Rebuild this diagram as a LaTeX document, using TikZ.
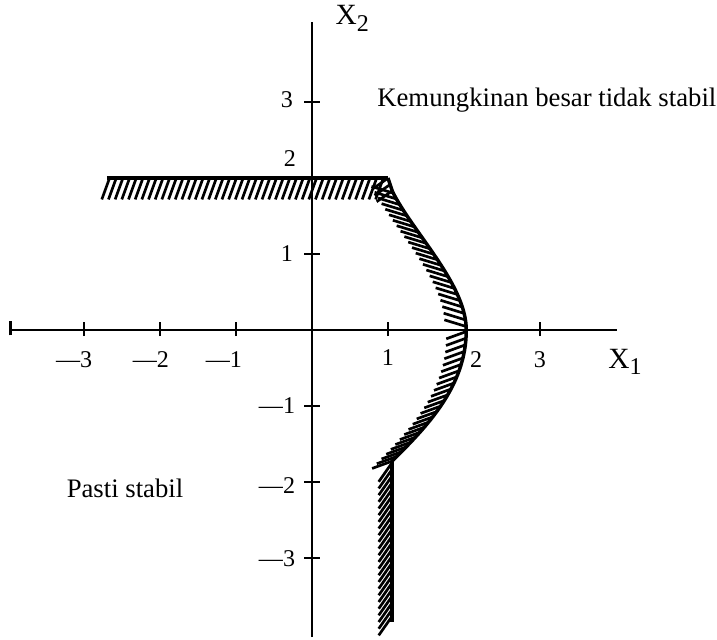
\documentclass[tikz,border=0pt]{standalone}
\usepackage{fontspec}
\setmainfont{Liberation Serif}
\usetikzlibrary{decorations.markings}
\begin{document}
\begin{tikzpicture}[x=1cm,y=1cm,
  axisline/.style={line width=1.1pt},
  bound/.style={line width=1.3pt, line join=round},
  ticklab/.style={font=\fontsize{9}{10}\selectfont, inner sep=0pt},
  lab/.style={font=\fontsize{10}{12}\selectfont, inner sep=0pt},
  hatch/.style 2 args={postaction={decorate,decoration={markings,
     mark=between positions 0.01 and 1 step 2.5pt with {\pgftransformresetnontranslations\draw[line width=1pt] (0,0) -- (#1:#2);}}}}
]
\useasboundingbox (-4.105,-4.066) rectangle (5.329,4.342);
% axes
\draw[axisline] (-3.97,0) -- (4.01,0);
\draw[axisline] (0,-4.04) -- (0,4.05);
\draw[axisline] (-3.97,-0.07) -- (-3.97,0.12);
\foreach \x in {-3,-2,-1,1,3} \draw[axisline] (\x,-0.08) -- (\x,0.1);
\foreach \y in {3,1,-1,-2,-3} \draw[axisline] (-0.1,\y) -- (0.1,\y);
% tick labels
\node[ticklab] (xm3) at (-3.13,-0.39) {—3};
\node[ticklab] (xm2) at (-2.12,-0.39) {—2};
\node[ticklab] (xm1) at (-1.16,-0.39) {—1};
\node[ticklab] (xp1) at (1.0,-0.36) {1};
\node[ticklab] (xp2) at (2.16,-0.39) {2};
\node[ticklab] (xp3) at (3.0,-0.39) {3};
\node[ticklab] (yp3) at (-0.33,3.03) {3};
\node[ticklab] (yp2) at (-0.29,2.25) {2};
\node[ticklab] (yp1) at (-0.33,1.01) {1};
\node[ticklab] (ym1) at (-0.46,-0.99) {—1};
\node[ticklab] (ym2) at (-0.46,-2.04) {—2};
\node[ticklab] (ym3) at (-0.46,-3.01) {—3};
% axis names
\node[lab,font=\fontsize{11}{12}\selectfont] (xone) at (4.12,-0.42) {X\raisebox{-0.5ex}{\fontsize{9}{9}\selectfont 1}};
\node[lab,font=\fontsize{11}{12}\selectfont] (xtwo) at (0.53,4.1) {X\raisebox{-0.5ex}{\fontsize{9}{9}\selectfont 2}};
% region labels
\node[lab] (unstable) at (3.09,3.03) {Kemungkinan besar tidak stabil};
\node[lab] (stable) at (-2.46,-2.08) {Pasti stabil};
% boundary with hatching
\coordinate (tl) at (-2.70,2.0);
\coordinate (tr) at (1.0,2.0);
\coordinate (k1) at (1.06,1.82);
\coordinate (mx) at (2.03,0);
\coordinate (k2) at (1.05,-1.73);
\coordinate (bt) at (1.05,-3.84);
\draw[bound, hatch={250}{0.3}] (tl) -- (tr);
\draw[bound, hatch={215}{0.25}] (tr) -- (k1);
\draw[bound, hatch={163}{0.3}] (k1) .. controls (1.33,1.28) and (2.03,0.6) .. (mx);
\draw[bound, hatch={200}{0.28}] (mx) .. controls (2.03,-0.75) and (1.50,-1.28) .. (k2);
\draw[bound, hatch={235}{0.3}] (k2) -- (bt);
\end{tikzpicture}
\end{document}
